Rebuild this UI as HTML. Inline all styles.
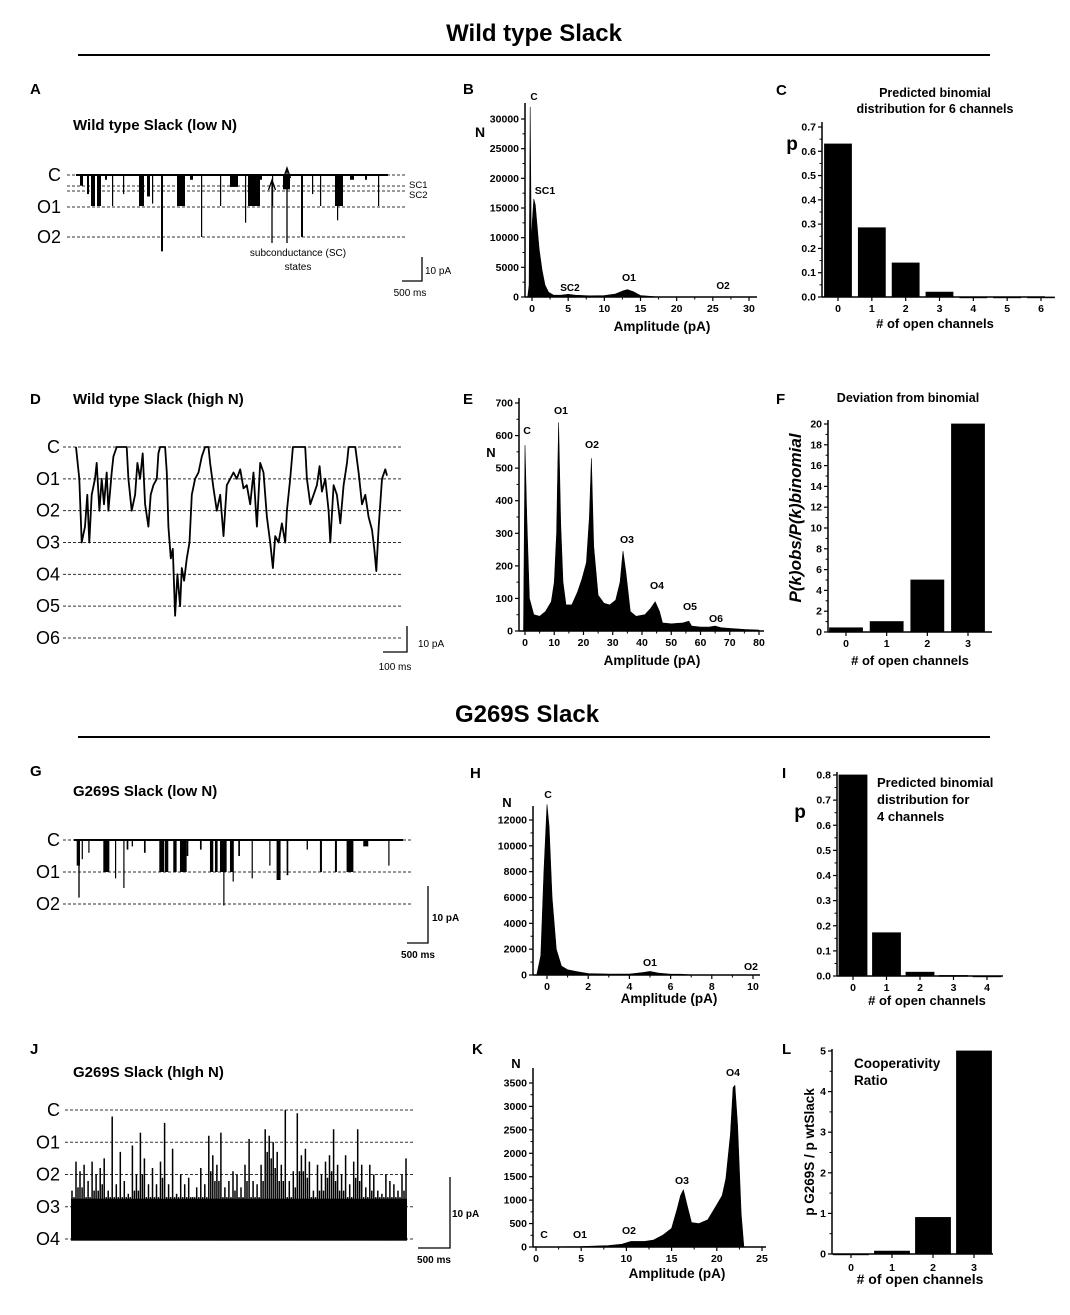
<!DOCTYPE html>
<html><head><meta charset="utf-8">
<style>
html,body{margin:0;padding:0;background:#fff;}
svg{display:block;font-family:"Liberation Sans",Arial,sans-serif;}
</style></head>
<body>
<svg id="fig" width="1070" height="1315" viewBox="0 0 1070 1315" xmlns="http://www.w3.org/2000/svg">
<rect width="1070" height="1315" fill="#fff"/>
<text x="534" y="41" text-anchor="middle" font-size="24" font-weight="bold">Wild type Slack</text>
<line x1="78" y1="55" x2="990" y2="55" stroke="#000" stroke-width="2"/>
<text x="527" y="722" text-anchor="middle" font-size="24" font-weight="bold">G269S Slack</text>
<line x1="78" y1="737" x2="990" y2="737" stroke="#000" stroke-width="2"/>
<g font-size="15" font-weight="bold">
<text x="30" y="94">A</text>
<text x="463" y="94">B</text>
<text x="776" y="95">C</text>
<text x="30" y="404">D</text>
<text x="463" y="404">E</text>
<text x="776" y="404">F</text>
<text x="30" y="776">G</text>
<text x="470" y="778">H</text>
<text x="782" y="778">I</text>
<text x="30" y="1054">J</text>
<text x="472" y="1054">K</text>
<text x="782" y="1054">L</text>
</g>
<g font-size="15" font-weight="bold">
<text x="73" y="130">Wild type Slack (low N)</text>
<text x="73" y="404">Wild type Slack (high N)</text>
<text x="73" y="796">G269S Slack (low N)</text>
<text x="73" y="1077">G269S Slack (hIgh N)</text>
</g>
</svg>
<script>
// ---------- data ----------
const bAmp=[-0.6,-0.4,-0.25,-0.1,0.05,0.25,0.45,0.7,1,1.4,1.8,2.3,3,4,5,6,8,10,11.5,12.5,13.2,14,15,17,30];
const bCount=[0,2000,32000,9000,13000,16500,15500,12000,8000,4500,2000,800,300,300,450,300,200,250,500,1000,1250,900,250,50,0];
const bXTicks=[0,5,10,15,20,25,30];
const bYTicks=[0,5000,10000,15000,20000,25000,30000];
const cCats=[0,1,2,3,4,5,6];
const cVals=[0.63,0.285,0.14,0.02,0,0,0];
const cYTicks=[0,0.1,0.2,0.3,0.4,0.5,0.6,0.7];
const eAmp=[-0.5,0,0.6,1.5,3,5,7,9,10,10.8,11.5,12.2,13,14,16,18,19.5,21,22,22.7,23.5,25,27,29,31,32.5,33.5,34.5,36,38,41,43,44.5,46,47,50,54,56,57,60,63,65,67,70,75,80];
const eCount=[0,570,350,100,50,45,60,90,150,300,640,330,150,80,80,120,160,210,350,530,260,110,85,80,95,150,245,180,60,45,50,70,90,60,25,22,25,30,15,12,12,15,10,8,5,3];
const eXTicks=[0,10,20,30,40,50,60,70,80];
const eYTicks=[0,100,200,300,400,500,600,700];
const fCats=[0,1,2,3];
const fVals=[0.4,1.0,5.0,20];
const fYTicks=[0,2,4,6,8,10,12,14,16,18,20];
const hAmp=[-0.5,-0.3,-0.15,0,0.1,0.25,0.45,0.7,1,1.5,2,3,4,4.7,5,5.4,6,6.5,7,10];
const hCount=[0,1500,8000,13200,11500,6000,2000,700,400,250,120,80,80,200,280,150,60,60,10,0];
const hXTicks=[0,2,4,6,8,10];
const hYTicks=[0,2000,4000,6000,8000,10000,12000];
const iCats=[0,1,2,3,4];
const iVals=[0.8,0.172,0.015,0.002,0];
const iYTicks=[0,0.1,0.2,0.3,0.4,0.5,0.6,0.7,0.8];
const kAmp=[0,5,8,9.5,10.5,12,13,14,15,15.6,16,16.3,16.7,17.2,18,19,20,20.6,21,21.5,21.8,22,22.3,22.7,23];
const kCount=[0,10,30,60,120,120,150,250,400,800,1100,1220,900,520,500,580,900,1100,1450,2400,3400,3450,2600,700,0];
const kXTicks=[0,5,10,15,20,25];
const kYTicks=[0,500,1000,1500,2000,2500,3000,3500];
const lCats=[0,1,2,3];
const lVals=[0,0.07,0.9,5.0];
const lYTicks=[0,1,2,3,4,5];
const aStart=[100,275,375,525,725,900,1175,1575,1775,1900,2125,2525,2850,3125,3600,3850,4225,4300,4600,4900,5175,5625,5900,6100,6475,6525,6850,7225,7550];
const aDur=[75,50,100,100,50,25,25,125,75,25,50,200,75,25,25,200,25,300,50,25,175,50,25,25,200,25,100,50,25];
const aAmp=[4.5,8,13,13,2,13,8,13,9,12,32,13,2,26,13,5,20,13,2,13,6,26,8,13,13,19,2,2,13];
const dTime=[228,238,245,255,262,268,275,285,290,298,305,312,320,325,335,340,350,370,380,385,395,405,412,420,428,435,445,452,460,470,475,480,495,500,505,512,518,525,532,540,545,552,560,568,575,585,595,605,615,625,630,640,650,660,670,680,690,700,710,720,730,740,750,760,770,780,790,800,810,818,825,835,845,855,860,870,878,900,915,920,930,940,950,958,965,975,985,990,1000,1010,1020,1030,1040,1045,1065,1075,1085,1095,1105,1115,1122,1128,1135,1145,1155,1160];
const dLevel=[0,1,3,2.5,1.5,3,1.5,1,0.5,2,1,1.8,0.8,2,0.8,0.3,0,0,0,1,2,1.5,0.5,1,0.2,1.8,2.5,1.5,1.2,1,0.2,0,0,0.8,2.5,3.5,3.2,5.3,4,5,3.8,4.2,3.5,3,1.5,1,0.8,0.3,0,0,0.5,1.3,2,1.5,2.8,1.2,1,0.8,1,0.7,1.3,1.2,1.8,0.8,2.5,0.5,0.8,2.2,3,3.8,2.8,3,2.4,3,2,1,0,0,0,1,1.8,1.5,1.2,0.6,1.4,1,2,3,1.2,1.5,2.4,1.2,0.5,0,0,0.8,1.8,1.5,2.2,2.6,3.2,3.9,2.5,1,0.7,0.9];
const gStart=[64,103,183,341,698,794,976,1174,1254,1373,1666,2031,2166,2364,2523,2682,2999,3237,3356,3475,3554,3713,3776,3911,4229,4649,4823,5062,5538,5855,6212,6490,6609,6887,7483];
const gDur=[79,32,24,16,119,48,24,24,40,32,40,119,79,79,159,40,40,79,63,159,24,79,24,40,24,24,95,40,32,48,48,159,40,119,24];
const gLevel=[0.8,1.8,0.6,0.4,1,1,1.2,1.5,0.3,0.2,0.4,1,1,1,1,0.5,0.3,1,1,1,2.05,1,1.3,0.5,1.2,0.8,1.25,1.1,0.3,1,1,1,1,0.2,0.8];
const jTop=[2.5,1.6,1.9,1.7,2.2,1.6,2.0,1.8,1.5,2.5,0.2,2.3,1.3,2.2,2.6,1.1,2.0,0.7,1.5,2.3,1.8,2.3,1.6,0.4,2.3,1.2,2.6,2.0,2.3,2.1,2.7,2.4,1.8,2.3,0.8,1.4,1.7,0.7,2.4,2.2,1.9,2.0,2.4,1.7,0.9,2.2,2.3,1.7,0.6,0.8,1.0,1.3,1.7,0.0,2.2,1.9,0.1,1.4,1.2,1.6,2.5,1.7,2.0,1.6,1.4,0.6,1.7,2.0,1.4,2.3,1.6,0.6,1.7,2.4,1.7,2.0,2.5,2.6,2.0,2.2,2.3,2.5,2.0,1.5];

// ---------- helpers ----------
const NS='http://www.w3.org/2000/svg';
const svg=document.getElementById('fig');
function mk(tag,attrs,parent){const e=document.createElementNS(NS,tag);for(const k in attrs)e.setAttribute(k,attrs[k]);(parent||svg).appendChild(e);return e;}
function lin(d0,d1,r0,r1){return v=>r0+(v-d0)*(r1-r0)/(d1-d0);}
function txt(x,y,s,size,anchor,weight,parent){const t=mk('text',{x:x,y:y,'font-size':size,'text-anchor':anchor||'start','font-weight':weight||'normal'},parent);t.textContent=s;return t;}
function fmtTick(v,dec){return dec?v.toFixed(dec):String(v);}

function yAxis(g,x,yTop,yBot,ticks,yS,dec){
  const l=mk('line',{x1:x,y1:yTop,x2:x,y2:yBot,stroke:'#000','stroke-width':1.5},g);
  
  
  for(let i=0;i<ticks.length;i++){
    const y=yS(ticks[i]);
    const tk=mk('line',{x1:x-4,y1:y,x2:x,y2:y,stroke:'#000','stroke-width':1.2},g);
    
    
    const lb=txt(x-6,y+3.5,fmtTick(ticks[i],dec),10.5,'end','bold',g);
    
    
    if(i<ticks.length-1){
      const ym=(y+yS(ticks[i+1]))/2;
      const mt=mk('line',{x1:x-2.5,y1:ym,x2:x,y2:ym,stroke:'#000','stroke-width':1},g);
      
      
    }
  }
}
function xAxis(g,y,xL,xR,ticks,xS,minor){
  const l=mk('line',{x1:xL,y1:y,x2:xR,y2:y,stroke:'#000','stroke-width':1.5},g);
  
  
  for(let i=0;i<ticks.length;i++){
    const x=xS(ticks[i]);
    const tk=mk('line',{x1:x,y1:y,x2:x,y2:y+4,stroke:'#000','stroke-width':1.2},g);
    
    
    const lb=txt(x,y+15,String(ticks[i]),10.5,'middle','bold',g);
    
    
    if(minor&&i<ticks.length-1){
      const xm=(x+xS(ticks[i+1]))/2;
      const mt=mk('line',{x1:xm,y1:y,x2:xm,y2:y+2.5,stroke:'#000','stroke-width':1},g);
      
      
    }
  }
}
function histArea(g,xs,ns,xS,yS){
  let pts=xS(xs[0]).toFixed(1)+','+yS(0).toFixed(1)+' ';
  for(let i=0;i<xs.length;i++)pts+=xS(xs[i]).toFixed(1)+','+yS(ns[i]).toFixed(1)+' ';
  pts+=xS(xs[xs.length-1]).toFixed(1)+','+yS(0).toFixed(1);
  const p=mk('polygon',{points:pts,fill:'#000',stroke:'#000','stroke-width':0.6,'stroke-linejoin':'round'},g);
  
  
}
function bars(g,cats,vals,catX,yS,w){
  for(let i=0;i<cats.length;i++){
    const x=catX(cats[i])-w/2, y=yS(vals[i]), h=yS(0)-y;
    const r=mk('rect',{x:x,y:y,width:w,height:Math.max(h,0.8),fill:'#000',stroke:'#000','stroke-width':0.8},g);
    
    
  }
}
function catAxis(g,y,xL,xR,cats,catX,labY){
  const l=mk('line',{x1:xL,y1:y,x2:xR,y2:y,stroke:'#000','stroke-width':1.5},g);
  
  
  for(let i=0;i<cats.length;i++){
    const x=catX(cats[i]);
    const tk=mk('line',{x1:x,y1:y,x2:x,y2:y+4,stroke:'#000','stroke-width':1.2},g);
    
    
    const lb=txt(x,labY||y+15,String(cats[i]),10.5,'middle','bold',g);
    
    
  }
}
function lbl(g,x,y,s,size,name,anchor,weight){const t=txt(x,y,s,size,anchor||'middle',weight||'bold',g);return t;}
function dashLine(g,x1,x2,y,name){const l=mk('line',{x1:x1,y1:y,x2:x2,y2:y,stroke:'#333','stroke-width':1,'stroke-dasharray':'3,2'},g);}
function scaleBar(g,xv,yTop,yBot,xL,name){
  const p=mk('path',{d:'M'+xv+','+yTop+' L'+xv+','+yBot+' L'+xL+','+yBot,fill:'none',stroke:'#000','stroke-width':1.3},g);
  
  
}

// ---------- Panel B ----------
(function(){
  const g=mk('g',{});
  
  
  const xS=lin(0,30,532,749), yS=lin(0,30000,297,119);
  histArea(g,bAmp,bCount,xS,yS);
  yAxis(g,525,103,297,bYTicks,yS);
  xAxis(g,297,525,757,bXTicks,xS,true);
  lbl(g,480,137,'N',14,'y-axis-title');
  lbl(g,662,331,'Amplitude (pA)',13.5,'x-axis-title');
  lbl(g,534,100,'C',10,'peak-label-c');
  lbl(g,545,194,'SC1',10.5,'peak-label-sc1');
  lbl(g,570,291,'SC2',10,'peak-label-sc2');
  lbl(g,629,281,'O1',10.5,'peak-label-o1');
  lbl(g,723,289,'O2',10,'peak-label-o2');
})();
// ---------- Panel C ----------
(function(){
  const g=mk('g',{});
  
  
  const yS=lin(0,0.7,297,127), cx=lin(0,6,838,1041);
  bars(g,cCats,cVals,cx,yS,27);
  yAxis(g,822,122,297,cYTicks,yS,1);
  catAxis(g,297,822,1045,cCats,cx);
  lbl(g,792,150,'p',19,'y-axis-title');
  lbl(g,935,97,'Predicted binomial',12.5,'chart-title-line1');
  lbl(g,935,113,'distribution for 6 channels',12.5,'chart-title-line2');
  lbl(g,935,328,'# of open channels',13,'x-axis-title');
})();
// ---------- Panel E ----------
(function(){
  const g=mk('g',{});
  
  
  const xS=lin(0,80,525,759), yS=lin(0,700,631,403);
  histArea(g,eAmp,eCount,xS,yS);
  yAxis(g,519,398,631,eYTicks,yS);
  xAxis(g,631,519,764,eXTicks,xS,true);
  lbl(g,491,457,'N',13,'y-axis-title');
  lbl(g,652,665,'Amplitude (pA)',13.5,'x-axis-title');
  const pk=[['C',527,434],['O1',561,414],['O2',592,448],['O3',627,543],['O4',657,589],['O5',690,610],['O6',716,622]];
  for(const p of pk){lbl(g,p[1],p[2],p[0],10.5,'peak-label-'+p[0].toLowerCase());}
})();
// ---------- Panel F ----------
(function(){
  const g=mk('g',{});
  
  
  const yS=lin(0,20,632,424), cx=lin(0,3,846,968);
  bars(g,fCats,fVals,cx,yS,33);
  yAxis(g,828,420,632,fYTicks,yS);
  catAxis(g,632,828,992,fCats,cx);
  lbl(g,908,402,'Deviation from binomial',12.5,'chart-title');
  const t=lbl(g,0,0,'P(k)obs/P(k)binomial',17,'y-axis-title');
  t.setAttribute('font-style','italic');
  t.setAttribute('transform','translate(801,518) rotate(-90)');
  lbl(g,910,665,'# of open channels',13,'x-axis-title');
})();
// ---------- Panel H ----------
(function(){
  const g=mk('g',{});
  
  
  const xS=lin(0,10,547,753), yS=lin(0,12000,975,820);
  histArea(g,hAmp,hCount,xS,yS);
  yAxis(g,533,806,975,hYTicks,yS);
  xAxis(g,975,533,760,hXTicks,xS,true);
  lbl(g,507,807,'N',13,'y-axis-title');
  lbl(g,669,1003,'Amplitude (pA)',13.5,'x-axis-title');
  lbl(g,548,798,'C',10.5,'peak-label-c');
  lbl(g,650,966,'O1',10.5,'peak-label-o1');
  lbl(g,751,970,'O2',10.5,'peak-label-o2');
})();
// ---------- Panel I ----------
(function(){
  const g=mk('g',{});
  
  
  const yS=lin(0,0.8,976,775), cx=lin(0,4,853,987);
  bars(g,iCats,iVals,cx,yS,28);
  yAxis(g,837,772,976,iYTicks,yS,1);
  catAxis(g,976,837,1003,iCats,cx);
  lbl(g,800,818,'p',19,'y-axis-title');
  lbl(g,877,787,'Predicted binomial',13,'chart-title-line1','start');
  lbl(g,877,804,'distribution for',13,'chart-title-line2','start');
  lbl(g,877,821,'4 channels',13,'chart-title-line3','start');
  lbl(g,927,1005,'# of open channels',13,'x-axis-title');
})();
// ---------- Panel K ----------
(function(){
  const g=mk('g',{});
  
  
  const xS=lin(0,25,536,762), yS=lin(0,3500,1247,1083);
  histArea(g,kAmp,kCount,xS,yS);
  yAxis(g,533,1068,1247,kYTicks,yS);
  xAxis(g,1247,533,766,kXTicks,xS,true);
  lbl(g,516,1068,'N',13,'y-axis-title');
  lbl(g,677,1278,'Amplitude (pA)',13.5,'x-axis-title');
  const pk=[['C',544,1238],['O1',580,1238],['O2',629,1234],['O3',682,1184],['O4',733,1076]];
  for(const p of pk){lbl(g,p[1],p[2],p[0],10.5,'peak-label-'+p[0].toLowerCase());}
})();
// ---------- Panel L ----------
(function(){
  const g=mk('g',{});
  
  
  const yS=lin(0,5,1254,1051), cx=lin(0,3,851,974);
  bars(g,lCats,lVals,cx,yS,35);
  yAxis(g,832,1049,1254,lYTicks,yS);
  catAxis(g,1254,832,993,lCats,cx,1271);
  lbl(g,854,1068,'Cooperativity',13.5,'annotation-line1','start');
  lbl(g,854,1085,'Ratio',13.5,'annotation-line2','start');
  const t=lbl(g,0,0,'p G269S / p wtSlack',13.5,'y-axis-title');
  t.setAttribute('transform','translate(814,1152) rotate(-90)');
  lbl(g,920,1284,'# of open channels',14,'x-axis-title');
})();

// ---------- Trace A ----------
(function(){
  const g=mk('g',{});
  
  
  const lv=[['C',175],['O1',207],['O2',237]];
  dashLine(g,67,407,175,'level-c-line');
  dashLine(g,67,407,186,'level-sc1-line');
  dashLine(g,67,407,191,'level-sc2-line');
  dashLine(g,67,407,207,'level-o1-line');
  dashLine(g,67,407,237,'level-o2-line');
  for(const l of lv){lbl(g,61,l[1]+6,l[0],18,'level-label-'+l[0].toLowerCase(),'end','normal');}
  lbl(g,409,188,'SC1',9.5,'level-label-sc1','start','normal');
  lbl(g,409,198,'SC2',9.5,'level-label-sc2','start','normal');
  const tS=lin(0,7800,76,388), aS=lin(0,26,175,237);
  const base=mk('line',{x1:76,y1:175,x2:388,y2:175,stroke:'#000','stroke-width':2},g);
  
  
  for(let i=0;i<aStart.length;i++){
    const x=tS(aStart[i]), w=Math.max(tS(aStart[i]+aDur[i])-x,1.2);
    const r=mk('rect',{x:x,y:175,width:w,height:aS(aAmp[i])-175,fill:'#000'},g);
    
    
  }
  const ar=mk('path',{d:'M272,243 L272,182 M268.5,190 L272,180 L275.5,190 M287,243 L287,170 M283.5,178 L287,168 L290.5,178',fill:'none',stroke:'#000','stroke-width':1.3},g);
  
  
  lbl(g,298,256,'subconductance (SC)',10,'annotation-subconductance','middle','normal');
  lbl(g,298,270,'states',10,'annotation-states','middle','normal');
  scaleBar(g,422,257,281,402,'scale-bar-a');
  lbl(g,425,274,'10 pA',10,'scale-label-pa','start','normal');
  lbl(g,410,296,'500 ms',10,'scale-label-ms','middle','normal');
})();
// ---------- Trace D ----------
(function(){
  const g=mk('g',{});
  
  
  const names=['C','O1','O2','O3','O4','O5','O6'];
  const lS=lin(0,6,447,638);
  for(let i=0;i<names.length;i++){
    dashLine(g,63,402,lS(i),'level-'+names[i].toLowerCase()+'-line');
    lbl(g,60,lS(i)+6,names[i],18,'level-label-'+names[i].toLowerCase(),'end','normal');
  }
  const tS=lin(228,1160,76,387);
  let d='';
  for(let i=0;i<dTime.length;i++){d+=(i?'L':'M')+tS(dTime[i]).toFixed(1)+','+lS(dLevel[i]).toFixed(1)+' ';}
  const p=mk('path',{d:d,fill:'none',stroke:'#000','stroke-width':1.8,'stroke-linejoin':'round'},g);
  
  
  scaleBar(g,407,626,652,383,'scale-bar-d');
  lbl(g,418,647,'10 pA',10,'scale-label-pa','start','normal');
  lbl(g,395,670,'100 ms',10,'scale-label-ms','middle','normal');
})();
// ---------- Trace G ----------
(function(){
  const g=mk('g',{});
  
  
  const names=['C','O1','O2'];
  const lS=lin(0,2,840,904);
  for(let i=0;i<names.length;i++){
    dashLine(g,63,413,lS(i),'level-'+names[i].toLowerCase()+'-line');
    lbl(g,60,lS(i)+6,names[i],18,'level-label-'+names[i].toLowerCase(),'end','normal');
  }
  const tS=lin(0,7833,74,403);
  const base=mk('line',{x1:74,y1:840,x2:403,y2:840,stroke:'#000','stroke-width':2},g);
  
  
  for(let i=0;i<gStart.length;i++){
    const x=tS(gStart[i]), w=Math.max(tS(gStart[i]+gDur[i])-x,1.2);
    const r=mk('rect',{x:x,y:840,width:w,height:lS(gLevel[i])-840,fill:'#000'},g);
    
    
  }
  scaleBar(g,428,886,943,407,'scale-bar-g');
  lbl(g,432,921,'10 pA',10,'scale-label-pa','start','bold');
  lbl(g,418,958,'500 ms',10,'scale-label-ms','middle','bold');
})();
// ---------- Trace J ----------
(function(){
  const g=mk('g',{});
  
  
  const names=['C','O1','O2','O3','O4'];
  const lS=lin(0,4,1110,1239);
  for(let i=0;i<names.length;i++){
    dashLine(g,65,413,lS(i),'level-'+names[i].toLowerCase()+'-line');
    lbl(g,60,lS(i)+6,names[i],18,'level-label-'+names[i].toLowerCase(),'end','normal');
  }
  const tS=lin(0,jTop.length-1,72,406);
  const body=mk('rect',{x:71,y:lS(2.75),width:336,height:lS(4.05)-lS(2.75),fill:'#000'},g);
  
  
  let d='';
  for(let i=0;i<jTop.length;i++){
    const x=tS(i).toFixed(1);
    d+='M'+x+','+lS(4.05).toFixed(1)+' L'+x+','+lS(jTop[i]).toFixed(1)+' ';
    if(i<jTop.length-1){
      const xm=((tS(i)+tS(i+1))/2).toFixed(1);
      const mid=Math.max(jTop[i],jTop[i+1])+0.5;
      d+='M'+xm+','+lS(4.05).toFixed(1)+' L'+xm+','+lS(Math.min(mid,2.7)).toFixed(1)+' ';
    }
  }
  const p=mk('path',{d:d,fill:'none',stroke:'#000','stroke-width':1.5},g);
  
  
  scaleBar(g,450,1177,1248,418,'scale-bar-j');
  lbl(g,452,1217,'10 pA',10,'scale-label-pa','start','bold');
  lbl(g,434,1263,'500 ms',10,'scale-label-ms','middle','bold');
})();
</script>
</body></html>
